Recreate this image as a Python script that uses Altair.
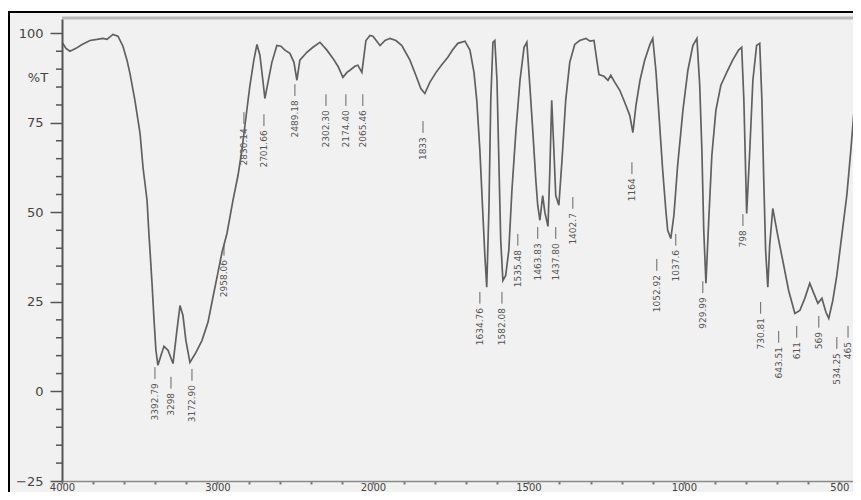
import altair as alt
import pandas as pd

# ---- spectrum (wavenumber cm-1, %T) ----
wavenumber = [4000, 3974, 3949, 3910, 3871, 3820, 3775, 3736, 3711, 3672, 3640, 3608,
              3582, 3563, 3531, 3498, 3479, 3453, 3441, 3434, 3421, 3409, 3396, 3383,
              3363, 3344, 3318, 3286, 3261, 3241, 3222, 3203, 3177, 3138, 3100, 3061,
              3029, 2997, 2971, 2939, 2900, 2868, 2843, 2817, 2791, 2766, 2746, 2727,
              2708, 2695, 2675, 2650, 2618, 2592, 2566, 2534, 2508, 2489, 2470, 2425,
              2386, 2341, 2296, 2257, 2225, 2193, 2167, 2148, 2116, 2097, 2071, 2045,
              2019, 2000, 1977, 1961, 1945, 1926, 1907, 1881, 1862, 1846, 1833, 1817,
              1797, 1778, 1759, 1743, 1727, 1704, 1688, 1675, 1666, 1656, 1647, 1640,
              1634, 1627, 1621, 1614, 1608, 1601, 1595, 1589, 1582, 1573, 1563, 1553,
              1540, 1527, 1514, 1505, 1495, 1486, 1476, 1470, 1463, 1454, 1447, 1437,
              1431, 1425, 1418, 1412, 1402, 1392, 1380, 1367, 1351, 1335, 1315, 1302,
              1289, 1280, 1273, 1257, 1244, 1235, 1222, 1206, 1190, 1174, 1164, 1154,
              1141, 1126, 1109, 1100, 1090, 1081, 1068, 1058, 1052, 1042, 1032, 1020,
              1003, 987, 971, 958, 949, 942, 936, 929, 920, 910, 897, 881,
              862, 843, 824, 814, 807, 801, 798, 788, 778, 766, 756, 749,
              743, 737, 730, 724, 714, 698, 682, 663, 643, 627, 611, 595,
              582, 569, 556, 543, 534, 521, 508, 492, 476, 463, 450, 440]
transmittance = [97.5, 95.8, 95.0, 95.8, 96.9, 98.0, 98.3, 98.6, 98.3, 99.7, 99.2, 96.4,
                 92.5, 88.8, 81.3, 72.1, 62.6, 53.4, 44.1, 39.4, 30.2, 20.7, 11.5, 7.3,
                 10.1, 12.6, 11.5, 7.8, 17.0, 24.0, 21.2, 14.2, 8.1, 10.9, 14.2, 19.3,
                 26.3, 33.2, 38.8, 44.1, 53.4, 60.3, 67.3, 76.5, 85.5, 92.5, 96.9, 93.9,
                 86.9, 81.8, 86.3, 91.9, 96.6, 96.4, 95.3, 94.4, 91.9, 86.9, 92.5, 94.7,
                 96.1, 97.5, 95.3, 93.0, 90.8, 87.7, 89.1, 89.7, 90.8, 91.1, 89.1, 98.0,
                 99.4, 99.2, 96.6, 98.0, 98.6, 98.0, 96.6, 92.5, 88.3, 84.6, 83.2, 86.3,
                 89.1, 91.3, 93.3, 95.5, 97.2, 97.8, 95.3, 89.1, 81.3, 67.3, 50.6, 38.0,
                 29.1, 50.6, 81.3, 97.5, 98.0, 86.9, 64.5, 42.2, 31.0, 32.4, 39.4, 56.1,
                 72.9, 86.9, 96.1, 97.5, 84.9, 72.9, 58.9, 52.0, 47.8, 54.7, 50.0, 46.1,
                 61.7, 81.3, 67.3, 54.7, 52.0, 64.5, 81.3, 91.9, 96.9, 98.0, 98.6, 97.8,
                 98.0, 92.5, 88.5, 88.0, 86.9, 88.3, 86.3, 84.1, 80.7, 77.1, 72.3, 79.9,
                 86.9, 92.5, 96.9, 98.6, 89.7, 78.5, 61.7, 50.6, 45.0, 42.7, 49.2, 63.1,
                 78.5, 89.7, 96.6, 98.6, 85.5, 67.3, 45.0, 30.2, 47.8, 65.9, 78.5, 85.5,
                 89.1, 92.5, 95.3, 96.1, 81.3, 60.3, 49.7, 67.3, 86.9, 96.6, 97.2, 81.3,
                 58.9, 39.4, 29.1, 40.8, 51.1, 43.6, 36.6, 28.2, 21.8, 22.6, 26.0, 30.2,
                 27.4, 24.6, 26.0, 22.1, 20.4, 25.4, 32.4, 43.6, 54.7, 67.3, 81.3, 98.0]

# ---- peak labels ----
label_wn = [3402, 3299, 3164, 2958, 2830, 2701, 2502, 2302, 2174, 2065, 1839,
            1656, 1585, 1534, 1470, 1412, 1357, 1167, 1087, 1026, 939, 810,
            753, 695, 637, 566, 508, 472]
label_T = [2.3, -0.4, 1.8, 36.7, 73.5, 72.9, 81.3, 78.5, 78.5, 78.5, 71.0,
           23.3, 23.3, 39.5, 41.4, 41.4, 49.8, 59.5, 32.5, 39.5, 26.3, 45.0,
           20.5, 12.4, 13.8, 16.6, 10.7, 13.8]
label_text = ["3392.79", "3298", "3172.90", "2958.06", "2830.14", "2701.66", "2489.18",
              "2302.30", "2174.40", "2065.46", "1833", "1634.76", "1582.08", "1535.48",
              "1463.83", "1437.80", "1402.7", "1164", "1052.92", "1037.6", "929.99",
              "798", "730.81", "643.51", "611", "569", "534.25", "465"]

y_major = [-25, 0, 25, 50, 75, 100]
y_minor = [-20, -15, -10, -5, 5, 10, 15, 20, 30, 35, 40, 45, 55, 60, 65, 70,
           80, 85, 90, 95]
x_tick_pos = list(range(0, 2600, 100))

W, H = 791, 462
POS = "datum.wn >= 2000 ? (4000 - datum.wn) / 2 : 3000 - datum.wn"

xscale = alt.Scale(domain=[0, 2544], nice=False, zero=False)
yscale = alt.Scale(domain=[-25, 104], nice=False, zero=False)

x_axis = alt.Axis(
    values=x_tick_pos, title=None, grid=False, zindex=2, labelOverlap=False,
    labelExpr="datum.value % 500 == 0 ? (datum.value <= 1000 ? 4000 - 2 * datum.value : 3000 - datum.value) : ''",
    labelFontSize=10, labelColor="#444444", labelFont="DejaVu Sans",
    labelBaseline="top", labelFlush=False,
    tickSize=3, tickColor="#777777", tickWidth=2, labelPadding=-2,
    domainColor="#8a8a8a", domainWidth=1.5)
y_axis = alt.Axis(
    values=y_major, title=None, grid=False, zindex=2, labelOverlap=False,
    labelFontSize=13, labelColor="#444444", labelFont="DejaVu Sans",
    tickSize=12, tickColor="#555555", tickWidth=1.5, labelPadding=7,
    domainColor="#555555", domainWidth=2)

spec = pd.DataFrame({"wn": wavenumber, "T": transmittance})
labels = pd.DataFrame({"wn": label_wn, "T": label_T, "txt": label_text})
labels["T2"] = labels["T"] + 1.2
labels["T3"] = labels["T"] + 4.5
one = pd.DataFrame({"a": [0]})
minor = pd.DataFrame({"v": y_minor})

frame = alt.Chart(one).mark_rect(fill="#f1f1f1", stroke="#000000", strokeWidth=2).encode(
    x=alt.value(-53), x2=alt.value(W + 40), y=alt.value(-7), y2=alt.value(H + 60))

top_line = alt.Chart(one).mark_rule(color="#b8b8b8", strokeWidth=3).encode(
    x=alt.value(0), x2=alt.value(W), y=alt.value(-1))

line = alt.Chart(spec).transform_calculate(pos=POS).mark_line(
    color="#606060", strokeWidth=1.7, clip=True).encode(
    x=alt.X("pos:Q", scale=xscale, axis=x_axis),
    y=alt.Y("T:Q", scale=yscale, axis=y_axis),
    order="pos:Q")

minor_ticks = alt.Chart(minor).mark_rule(color="#555555", strokeWidth=1.5).encode(
    y=alt.Y("v:Q", scale=yscale, axis=y_axis), x=alt.value(-6), x2=alt.value(0))

pct = alt.Chart(one).mark_text(text="%T", fontSize=13, color="#444444",
                               font="DejaVu Sans").encode(
    x=alt.value(-24), y=alt.datum(87.4, scale=yscale, axis=y_axis))

leaders = alt.Chart(labels).transform_calculate(pos=POS).mark_rule(
    color="#666666", strokeWidth=1).encode(
    x=alt.X("pos:Q", scale=xscale, axis=x_axis),
    y=alt.Y("T2:Q", scale=yscale, axis=y_axis), y2="T3:Q")

texts = alt.Chart(labels).transform_calculate(pos=POS).mark_text(
    angle=270, align="right", baseline="middle", fontSize=9, color="#555555",
    font="DejaVu Sans").encode(
    x=alt.X("pos:Q", scale=xscale, axis=x_axis),
    y=alt.Y("T:Q", scale=yscale, axis=y_axis), text="txt:N")

chart = alt.layer(frame, top_line, minor_ticks, leaders, texts, line, pct).properties(
    width=W, height=H,
    padding={"left": 54, "top": 11, "right": 0, "bottom": 11},
    autosize=alt.AutoSizeParams(type="none"),
    background="#ffffff",
).configure_view(stroke=None).configure_axis(labelOverlap=False)

chart.save("out.html", embed_options={"renderer": "svg", "actions": False})
